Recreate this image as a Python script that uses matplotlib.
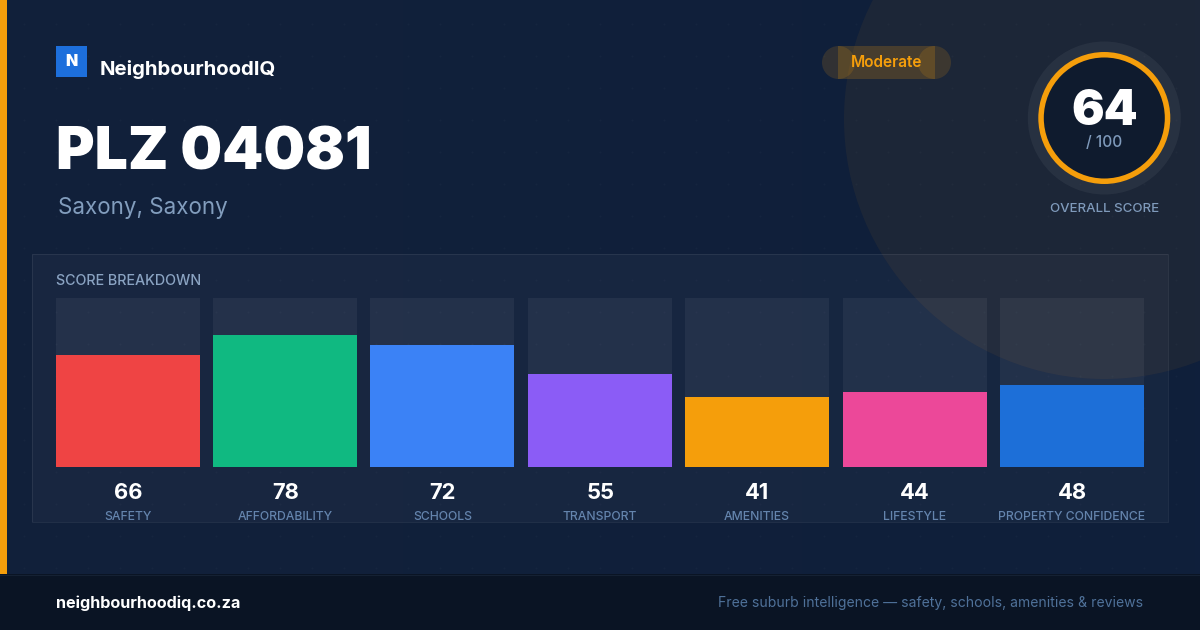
import numpy as np
import matplotlib
matplotlib.use("Agg")
import matplotlib.pyplot as plt
from matplotlib.patches import Circle, Rectangle

plt.rcParams['font.family'] = ['Inter', 'Roboto', 'DejaVu Sans']

# chart data
categories = ['SAFETY', 'AFFORDABILITY', 'SCHOOLS', 'TRANSPORT', 'AMENITIES', 'LIFESTYLE', 'PROPERTY CONFIDENCE']
scores = [66, 78, 72, 55, 41, 44, 48]
bar_colors = ['#ef4444', '#10b981', '#3b82f6', '#8b5cf6', '#f59e0b', '#ec4899', '#1d6fd8']
overall = 64

ORANGE = '#f59e0b'
W, H = 1200, 630


def px(size):
    return size * 0.72  # css px to points at dpi 100


fig = plt.figure(figsize=(12, 6.3), dpi=100, facecolor='#12213a')

# background layer, in pixel coordinates
bg = fig.add_axes([0, 0, 1, 1])
bg.axis('off')

grad = np.linspace(0, 1, 256).reshape(1, -1)
bg.imshow(grad, extent=(0, W, 574, 0), aspect='auto', zorder=0,
          cmap=matplotlib.colors.LinearSegmentedColormap.from_list('b', ['#12213a', '#0f1f3b']))
bg.set_xlim(0, W)
bg.set_ylim(H, 0)

# faint dot grid
dx, dy = np.meshgrid(np.arange(24, W, 32), np.arange(24, 574, 32))
bg.scatter(dx.ravel(), dy.ravel(), s=2, color='white', alpha=0.025, lw=0, zorder=1)

bg.add_patch(Circle((1104, 119), 260, fc=ORANGE, alpha=0.06, lw=0, zorder=2))
bg.add_patch(Rectangle((0, 0), 7, 574, fc=ORANGE, lw=0, zorder=3))
bg.add_patch(Rectangle((0, 574), W, 56, fc='#0a1424', lw=0, zorder=3))
bg.plot([0, W], [574.5, 574.5], color='#152133', lw=0.8, zorder=4)

# panel
bg.add_patch(Rectangle((32, 254), 1136, 268, fc='white', alpha=0.03, lw=0, zorder=3))
bg.add_patch(Rectangle((32, 254), 1136, 268, fc='none', ec='white', alpha=0.07, lw=0.8, zorder=3))

# logo
bg.add_patch(Rectangle((56, 46), 31, 31, fc='#1d6fdc', lw=0, zorder=3))
bg.text(71.5, 66, 'N', color='white', fontsize=px(16), fontweight='black', ha='center', va='baseline', zorder=5)
bg.text(100, 75, 'NeighbourhoodIQ', color='white', fontsize=px(20.35), fontweight='bold', va='baseline', zorder=5)
bg.text(56, 169, 'PLZ 04081', color='white', fontsize=px(58.8), fontweight='black', va='baseline', zorder=5)
bg.text(58, 214, 'Saxony, Saxony', color='#829dbd', fontsize=px(22.4), va='baseline', zorder=5)

# badge
bg.add_patch(Rectangle((838, 46), 97, 33, fc=ORANGE, alpha=0.2, lw=0, zorder=3))
bg.add_patch(Circle((838.5, 62.5), 16.5, fc=ORANGE, alpha=0.15, lw=0, zorder=3))
bg.add_patch(Circle((934.5, 62.5), 16.5, fc=ORANGE, alpha=0.15, lw=0, zorder=3))
bg.text(886.5, 67, 'Moderate', color=ORANGE, fontsize=px(15.4), fontweight='semibold', ha='center', va='baseline', zorder=5)

# score ring
cx, cy = 1104.3, 118
bg.add_patch(Circle((cx, cy), 76.5, fc='white', alpha=0.05, lw=0, zorder=3))
bg.add_patch(Circle((cx, cy), 66, fc=ORANGE, lw=0, zorder=4))
bg.add_patch(Circle((cx, cy), 60.5, fc='#0f1b2e', lw=0, zorder=4))
bg.text(cx, 125, str(overall), color='white', fontsize=px(48.5), fontweight='black', ha='center', va='baseline', zorder=5)
bg.text(cx, 147, '/ 100', color='#7f9abb', fontsize=px(15.5), fontweight='medium', ha='center', va='baseline', zorder=5)
bg.text(cx, 212, 'OVERALL SCORE', color='#7f9abb', fontsize=px(13.3), fontweight='medium', ha='center', va='baseline', zorder=5)

bg.text(56, 285, 'SCORE BREAKDOWN', color='#8aa3c2', fontsize=px(14.3), fontweight='medium', va='baseline', zorder=5)

# footer text
bg.text(56, 608, 'neighbourhoodiq.co.za', color='white', fontsize=px(16.2), fontweight='bold', va='baseline', zorder=5)
bg.text(1143, 607, 'Free suburb intelligence \u2014 safety, schools, amenities & reviews', color='#4f7199',
        fontsize=px(14), ha='right', va='baseline', zorder=5)

# bars
ax = fig.add_axes([55.78 / W, 1 - 466.6 / H, 1088.1 / W, 169 / H])
ax.patch.set_alpha(0)
ax.axis('off')
n = len(scores)
bar_w = 144 / 157.35
x = np.arange(n)
ax.bar(x, [100] * n, width=bar_w, color='white', alpha=0.055, lw=0)
ax.bar(x, scores, width=bar_w, color=bar_colors, lw=0)
ax.set_xlim(-bar_w / 2, n - 1 + bar_w / 2)
ax.set_ylim(0, 100)

for i, (name, val) in enumerate(zip(categories, scores)):
    ax.annotate(str(val), (i, 0), xytext=(0.3, -32), textcoords='offset pixels', annotation_clip=False,
                color='white', fontsize=px(22), fontweight='bold', ha='center', va='baseline')
    ax.annotate(name, (i, 0), xytext=(0, -53), textcoords='offset pixels', annotation_clip=False,
                color='#6484ad', fontsize=px(12.2), fontweight='medium', ha='center', va='baseline')

fig.savefig('out.png', dpi=100, facecolor=fig.get_facecolor())
